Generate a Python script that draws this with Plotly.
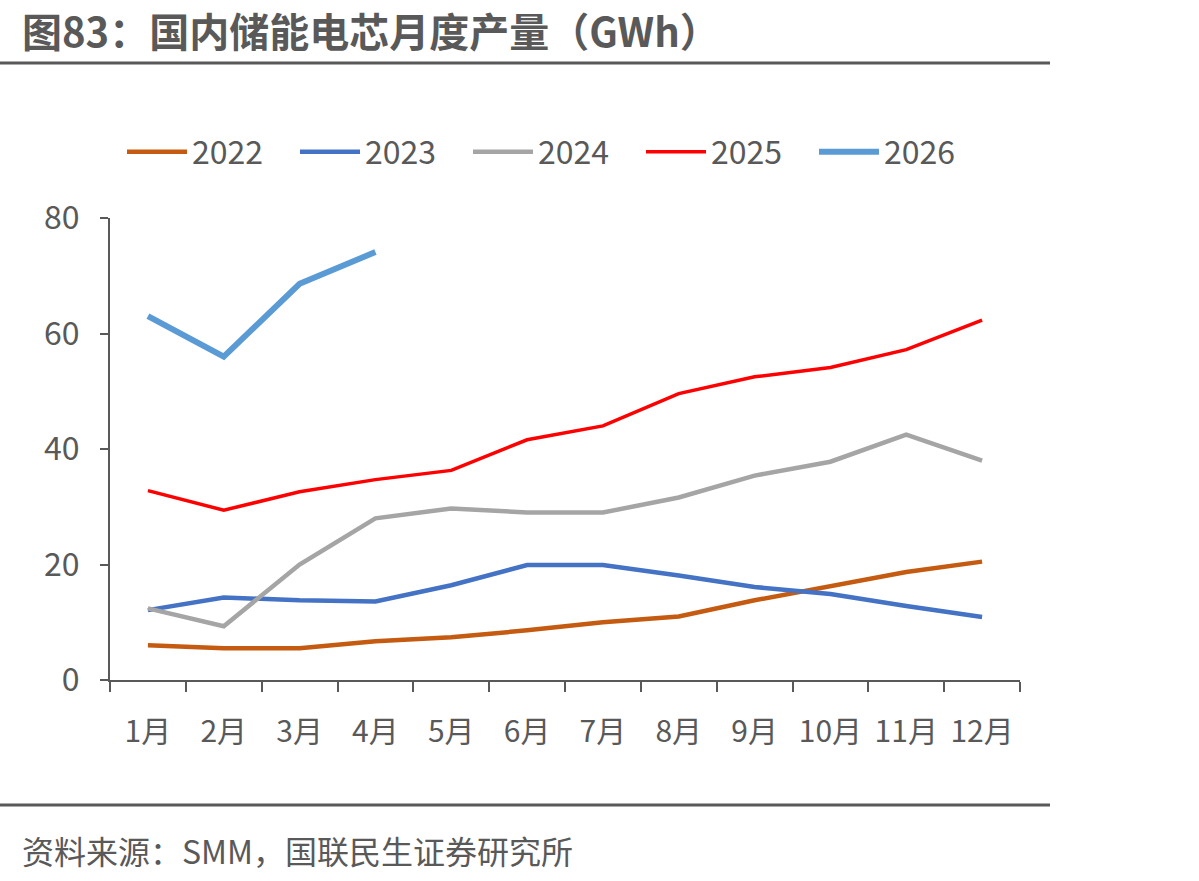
import plotly.graph_objects as go

months = ["1月", "2月", "3月", "4月", "5月", "6月", "7月", "8月", "9月", "10月", "11月", "12月"]
y2022 = [6.0, 5.5, 5.5, 6.7, 7.4, 8.6, 10.0, 11.0, 13.8, 16.2, 18.7, 20.5]
y2023 = [12.1, 14.3, 13.8, 13.6, 16.4, 19.9, 19.9, 18.1, 16.1, 14.9, 12.8, 10.9]
y2024 = [12.4, 9.3, 20.0, 28.0, 29.7, 29.0, 29.0, 31.6, 35.4, 37.8, 42.5, 38.0]
y2025 = [32.8, 29.4, 32.6, 34.7, 36.3, 41.6, 44.0, 49.6, 52.5, 54.1, 57.2, 62.3]
y2026 = [63.0, 56.0, 68.6, 74.1]
series_names = ["2022", "2023", "2024", "2025", "2026"]
y_ticks = [0, 20, 40, 60, 80]

W, H = 1199, 881
L, R, T, B = 110, 1020, 218, 680
FONT = "Noto Sans CJK SC"
GREY = "#595959"

colors = ["#C55A11", "#4472C4", "#A5A5A5", "#FF0000", "#5B9BD5"]
widths = [4.5, 4.5, 4.5, 3.5, 6]
data = [y2022, y2023, y2024, y2025, y2026]

fig = go.Figure()
for name, ys, c, w in zip(series_names, data, colors, widths):
    fig.add_trace(go.Scatter(
        x=months[:len(ys)], y=ys, name=name, mode="lines",
        line=dict(color=c, width=w),
    ))

def px(x):
    return (x - L) / (R - L)

def py(y):
    return (B - y) / (B - T)

shapes = [
    dict(type="line", xref="paper", yref="paper", x0=px(0), x1=px(1050), y0=py(63), y1=py(63),
         line=dict(color=GREY, width=3)),
    dict(type="line", xref="paper", yref="paper", x0=px(0), x1=px(1050), y0=py(805), y1=py(805),
         line=dict(color=GREY, width=3)),
]

annotations = [
    dict(text="<b>图83：国内储能电芯月度产量（GWh）</b>", xref="paper", yref="paper",
         x=px(20), y=py(30), xanchor="left", yanchor="middle", showarrow=False,
         font=dict(family=FONT, size=40, color=GREY)),
    dict(text="资料来源：SMM，国联民生证券研究所", xref="paper", yref="paper",
         x=px(20), y=py(850), xanchor="left", yanchor="middle", showarrow=False,
         font=dict(family=FONT, size=32, color=GREY)),
]

fig.update_layout(
    width=W, height=H,
    margin=dict(l=L, r=W - R, t=T, b=H - B, pad=0),
    paper_bgcolor="white", plot_bgcolor="white",
    font=dict(family=FONT, size=30, color=GREY),
    showlegend=True,
    legend=dict(orientation="h", x=px(122), y=py(152), xanchor="left", yanchor="middle",
                font=dict(family=FONT, size=32, color=GREY), itemwidth=60,
                tracegroupgap=0, entrywidth=98, entrywidthmode="pixels"),
    shapes=shapes, annotations=annotations,
    xaxis=dict(type="category", categoryorder="array", categoryarray=months,
               range=[-0.5, 11.5], showgrid=False, showline=True, linecolor=GREY, linewidth=2,
               ticks="outside", ticklen=10, tickcolor=GREY, tickwidth=2,
               tickson="boundaries", tickfont=dict(family=FONT, size=30, color=GREY),
               ticklabelstandoff=24, zeroline=False),
    yaxis=dict(range=[0, 80], tickvals=y_ticks, showgrid=False, showline=True,
               linecolor=GREY, linewidth=2, ticks="outside", ticklen=8, tickcolor=GREY,
               tickwidth=2, tickfont=dict(family=FONT, size=32, color=GREY),
               ticklabelstandoff=14, zeroline=False),
)

fig.write_html("out.html")
